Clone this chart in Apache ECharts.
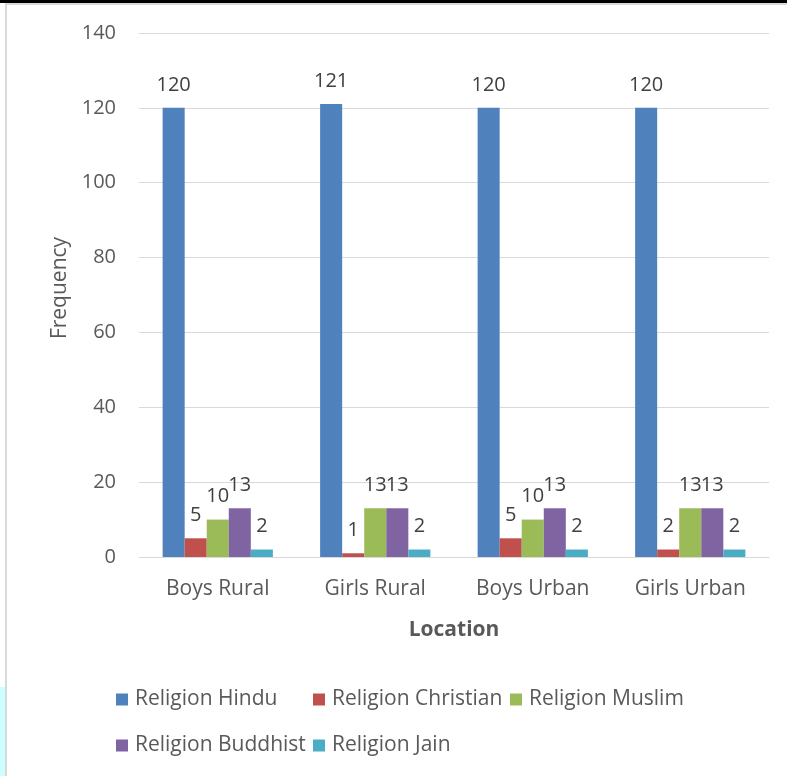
<!DOCTYPE html>
<html>
<head>
<meta charset="utf-8">
<script src="https://cdn.jsdelivr.net/npm/echarts@6/dist/echarts.min.js"></script>
<style>
html,body{margin:0;padding:0;background:#fff;}
#chart{width:787px;height:776px;}
</style>
</head>
<body>
<div id="chart"></div>
<script>
const categories = ['Boys Rural', 'Girls Rural', 'Boys Urban', 'Girls Urban'];
const hindu = [120, 121, 120, 120];
const christian = [5, 1, 5, 2];
const muslim = [10, 13, 10, 13];
const buddhist = [13, 13, 13, 13];
const jain = [2, 2, 2, 2];
const seriesNames = ['Religion Hindu', 'Religion Christian', 'Religion Muslim', 'Religion Buddhist', 'Religion Jain'];
const yTicks = { min: 0, max: 140, interval: 20 };
const yAxisTitle = 'Frequency';
const xAxisTitle = 'Location';

const colors = ['#4F81BD', '#C0504D', '#9BBB59', '#8064A2', '#4BACC6'];
const FONT = 'Open Sans';
const TXT = '#595959';

const chart = echarts.init(document.getElementById('chart'));
const dataSets = [hindu, christian, muslim, buddhist, jain];

const legendBase = {
  orient: 'vertical',
  icon: 'rect',
  itemWidth: 12,
  itemHeight: 12,
  itemGap: 25,
  top: 689,
  padding: 0,
  textStyle: { fontFamily: FONT, fontSize: 21, color: TXT, padding: [0, 0, 0, 2] }
};

chart.setOption({
  animation: false,
  color: colors,
  textStyle: { fontFamily: FONT },
  grid: { left: 139, right: 18, top: 33, bottom: 219, containLabel: false },
  legend: [
    Object.assign({}, legendBase, { left: 116, data: [seriesNames[0], seriesNames[3]] }),
    Object.assign({}, legendBase, { left: 313, data: [seriesNames[1], seriesNames[4]] }),
    Object.assign({}, legendBase, { left: 510, data: [seriesNames[2]] })
  ],
  xAxis: {
    type: 'category',
    data: categories,
    name: xAxisTitle,
    nameLocation: 'middle',
    nameGap: 63,
    nameTextStyle: { fontFamily: FONT, fontSize: 21, fontWeight: 'bold', color: TXT },
    axisTick: { show: false },
    axisLine: { lineStyle: { color: '#D9D9D9', width: 1 } },
    axisLabel: { fontFamily: FONT, fontSize: 21, color: TXT, margin: 22 }
  },
  yAxis: {
    type: 'value',
    min: yTicks.min,
    max: yTicks.max,
    interval: yTicks.interval,
    axisLine: { show: false },
    axisTick: { show: false },
    splitLine: { lineStyle: { color: '#D9D9D9', width: 1 } },
    axisLabel: { fontFamily: FONT, fontSize: 20, color: TXT, margin: 23 }
  },
  series: seriesNames.map((n, i) => ({
    name: n,
    type: 'bar',
    data: dataSets[i],
    barGap: '0%',
    barCategoryGap: '30%',
    itemStyle: { color: colors[i] },
    label: {
      show: true,
      position: 'top',
      distance: 13,
      fontFamily: FONT,
      fontSize: 20,
      color: '#404040'
    }
  })),
  graphic: [
    { type: 'rect', shape: { x: 0, y: 0, width: 787, height: 3 }, style: { fill: '#000' }, silent: true },
    { type: 'rect', shape: { x: 5, y: 3, width: 782, height: 2 }, style: { fill: '#D9D9D9' }, silent: true },
    { type: 'rect', shape: { x: 5, y: 3, width: 2, height: 773 }, style: { fill: '#D9D9D9' }, silent: true },
    { type: 'rect', shape: { x: 0, y: 687, width: 5, height: 89 }, style: { fill: '#CCFFFF' }, silent: true },
    {
      type: 'text', x: 60, y: 288, rotation: Math.PI / 2, silent: true,
      style: { text: yAxisTitle, fontFamily: FONT, fontSize: 21, fill: TXT, align: 'center', verticalAlign: 'middle' }
    }
  ]
});
</script>
</body>
</html>
